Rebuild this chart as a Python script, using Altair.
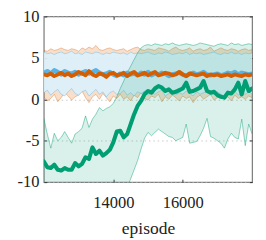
import altair as alt
import pandas as pd

episodes = list(range(12000, 18001, 100))

green_mean = [
    -7.5, -8.2, -8.3, -7.9, -8.5, -8.6, -8.3, -8.5, -8.5, -7.7,
    -8.1, -7.8, -7.0, -7.2, -5.8, -6.6, -6.2, -6.8, -6.5, -6.1,
    -5.2, -3.9, -3.8, -4.6, -4.2, -3.0, -1.8, -0.8, -0.2, 0.6,
    1.0, 0.8, 1.3, 1.6, 1.4, 1.0, 1.2, 0.8, 0.9, 1.1,
    1.3, 2.0, 0.9, 1.0, 1.2, 1.4, 2.2, 1.0, 0.8, 0.9,
    0.5, 0.3, 0.2, 0.8, 0.7, 1.2, 2.0, 0.6, 2.2, 1.0,
    1.3,
]
green_hi = [
    -2.3, -4.2, -5.9, -4.1, -5.0, -4.6, -3.9, -4.6, -5.3, -4.2,
    -3.9, -3.5, -2.0, -3.4, -2.4, -1.8, -1.0, -1.4, -1.1, -0.9,
    -0.5, 0.3, 1.3, 2.2, 3.2, 4.0, 4.8, 5.6, 6.2, 6.5,
    6.6, 6.5, 6.7, 6.6, 6.5, 6.7, 6.6, 6.8, 6.6, 6.5,
    6.6, 6.7, 6.6, 6.5, 6.6, 6.8, 6.7, 6.6, 6.5, 6.4,
    6.6, 6.7, 6.6, 6.5, 6.8, 6.6, 6.7, 6.5, 6.6, 6.7,
    6.6,
]
green_lo = [
    -12.0, -12.8, -13.1, -12.4, -13.0, -12.6, -12.2, -13.3, -12.9, -12.5,
    -12.1, -12.7, -12.3, -11.8, -12.4, -12.0, -11.6, -12.2, -11.9, -11.5,
    -11.8, -11.3, -11.6, -11.2, -10.6, -9.6, -8.5, -7.4, -6.0, -4.7,
    -4.0, -4.4, -4.0, -3.6, -3.9, -4.2, -4.5, -4.6, -5.0, -4.8,
    -4.6, -3.0, -5.3, -5.2, -5.1, -4.4, -3.5, -2.3, -4.5, -4.7,
    -5.0, -5.3, -5.9, -4.8, -4.1, -4.6, -4.8, -2.4, -5.6, -3.0,
    -4.2,
]
orange_mean = [
    3.0, 2.9, 3.1, 2.8, 3.0, 3.2, 2.9, 3.1, 2.8, 3.0,
    3.3, 3.1, 2.9, 3.4, 3.0, 2.8, 3.1, 3.0, 2.7, 3.1,
    3.2, 2.9, 3.0, 3.2, 2.8, 3.1, 3.3, 2.9, 3.0, 3.2,
    2.9, 3.1, 3.3, 2.9, 3.0, 3.2, 3.1, 2.9, 3.0, 3.3,
    3.0, 2.8, 3.1, 3.0, 2.9, 3.0, 3.1, 2.8, 3.0, 2.9,
    3.0, 2.8, 2.9, 3.0, 2.8, 3.0, 2.9, 2.8, 3.0, 2.9,
    3.0,
]
orange_hi = [
    5.9, 5.8, 6.1, 5.9, 6.0, 6.2, 6.0, 5.9, 6.1, 6.0,
    5.8, 6.2, 6.0, 6.3, 6.1, 6.5, 6.0, 5.9, 6.1, 6.2,
    6.0, 5.9, 6.0, 6.1, 5.8, 6.0, 6.2, 6.3, 6.0, 5.9,
    6.1, 6.0, 5.9, 6.2, 6.1, 6.0, 5.8, 6.1, 6.3, 6.0,
    5.9, 6.0, 6.2, 5.8, 6.0, 6.1, 5.9, 6.0, 6.3, 5.8,
    6.0, 6.2, 6.0, 5.9, 6.1, 6.0, 5.8, 6.0, 6.1, 5.9,
    6.0,
]
orange_lo = [
    0.3, -0.2, 0.1, 0.6, -0.3, 0.2, 0.8, 0.4, -0.1, 0.3,
    0.5, 1.0, 0.2, -0.4, 0.3, 0.6, 0.0, 0.7, 0.2, -0.3,
    0.4, 0.1, 0.6, 0.0, 0.3, -0.2, 0.5, 0.2, 0.8, 0.1,
    -0.1, 0.4, 0.2, 0.6, -0.3, 0.3, 0.0, 0.5, 0.2, -0.2,
    0.4, 0.1, 0.3, -0.4, 0.2, 0.5, 0.0, 0.3, 0.6, -0.1,
    0.2, 0.4, 0.0, 0.3, -0.2, 0.5, 0.1, 0.3, 0.0, 0.4,
    0.2,
]
blue_mean = [
    3.2, 3.4, 3.1, 3.5, 3.3, 3.0, 3.4, 3.2, 3.1, 3.3,
    3.0, 3.2, 3.4, 3.1, 3.3, 3.5, 3.2, 3.0, 3.1, 3.3,
    3.0, 2.8, 3.1, 2.9, 3.2, 3.0, 3.1, 2.9, 3.2, 3.0,
    3.3, 2.9, 3.1, 3.0, 3.2, 3.1, 2.8, 3.0, 3.1, 3.2,
    3.0, 2.8, 3.1, 3.2, 3.0, 3.1, 3.3, 3.0, 2.9, 3.0,
    3.1, 2.9, 3.0, 3.2, 3.1, 3.3, 3.0, 3.2, 3.1, 3.0,
    3.1,
]
blue_hi = [
    5.7, 5.5, 5.6, 5.4, 5.6, 5.7, 5.5, 5.6, 5.8, 5.5,
    5.6, 5.4, 5.7, 5.6, 5.5, 5.7, 5.6, 5.4, 5.6, 5.5,
    5.7, 5.6, 5.5, 5.6, 5.4, 5.7, 5.5, 5.6, 5.5, 5.6,
    5.7, 5.5, 5.4, 5.6, 5.5, 5.7, 5.6, 5.4, 5.5, 5.6,
    5.5, 5.7, 5.4, 5.6, 5.5, 5.6, 5.4, 5.5, 5.6, 5.7,
    5.5, 5.4, 5.6, 5.5, 5.7, 5.5, 5.6, 5.4, 5.6, 5.5,
    5.6,
]
blue_lo = [
    0.8, 1.1, 0.5, 0.9, 1.2, 0.6, 0.4, 0.9, 1.3, 0.7,
    0.5, 0.9, 1.1, 0.4, 0.8, 1.2, 0.6, 0.9, 0.3, 0.8,
    1.0, 0.6, 0.7, 1.1, 0.5, 0.8, 0.4, 0.9, 0.7, 1.0,
    0.5, 0.8, 0.6, 0.9, 1.1, 0.4, 0.7, 0.9, 0.5, 0.8,
    0.6, 1.0, 0.7, 0.4, 0.9, 0.6, 0.8, 1.0, 0.5, 0.7,
    0.9, 0.6, 0.4, 0.8, 0.7, 1.0, 0.5, 0.8, 0.6, 0.9,
    0.7,
]

x_ticks = [14000, 16000]
y_ticks = [-10, -5, 0, 5, 10]

GREEN, ORANGE, BLUE = "#009E73", "#D55E00", "#56B4E9"
BLUE_FILL = "#dcf0fb"
FONT = "Liberation Serif, DejaVu Serif, serif"


def frame(mean, lo, hi):
    return pd.DataFrame({"episode": episodes, "mean": mean, "lo": lo, "hi": hi})


df_g = frame(green_mean, green_lo, green_hi)
df_o = frame(orange_mean, orange_lo, orange_hi)
df_b = frame(blue_mean, blue_lo, blue_hi)

xscale = alt.Scale(domain=[12000, 18000], nice=False, zero=False)
yscale = alt.Scale(domain=[-10, 10], nice=False, zero=False)


def X(axis=None):
    return alt.X("episode:Q", scale=xscale, axis=axis)


def Y(field, axis=None):
    return alt.Y(f"{field}:Q", scale=yscale, axis=axis)


def band(df, color, fill, fill_op, edge_op):
    area = alt.Chart(df).mark_area(color=fill, opacity=fill_op, clip=True).encode(
        x=X(), y=Y("lo"), y2="hi:Q")
    hi = alt.Chart(df).mark_line(color=color, opacity=edge_op, strokeWidth=1, clip=True).encode(
        x=X(), y=Y("hi"))
    lo = alt.Chart(df).mark_line(color=color, opacity=edge_op, strokeWidth=1, clip=True).encode(
        x=X(), y=Y("lo"))
    return [area, hi, lo]


def mean_line(df, color, width):
    return alt.Chart(df).mark_line(color=color, strokeWidth=width, strokeJoin="round",
                                   strokeCap="round", clip=True).encode(x=X(), y=Y("mean"))


common = dict(offset=-3, tickSize=3, domain=False, tickColor="#333", tickWidth=1)

axis_bl = alt.Chart(df_g).mark_line(opacity=0).encode(
    x=X(alt.Axis(orient="bottom", values=x_ticks, title="episode", grid=False,
                 labelExpr="'' + datum.value", labelFont=FONT, labelFontSize=17,
                 labelColor="#222", labelPadding=13, titleFont=FONT, titleFontSize=18,
                 titleFontWeight="normal", titleColor="#222", titlePadding=10, **common)),
    y=Y("mean", alt.Axis(orient="left", values=y_ticks, title=None, grid=True,
                         gridDash=[1.5, 3], gridColor="#bbbbbb", gridWidth=0.8,
                         labelExpr="'' + datum.value", labelFont=FONT, labelFontSize=17,
                         labelColor="#222", labelPadding=5, **common)),
)
axis_tr = alt.Chart(df_g).mark_line(opacity=0).encode(
    x=X(alt.Axis(orient="top", values=x_ticks, title=None, labels=False, grid=False, **common)),
    y=Y("mean", alt.Axis(orient="right", values=y_ticks, title=None, labels=False, grid=False,
                         **common)),
)

layers = [axis_bl]
layers += band(df_o, ORANGE, ORANGE, 0.2, 0.35)
layers += band(df_b, BLUE, BLUE_FILL, 0.92, 0.4)
layers += band(df_g, GREEN, GREEN, 0.15, 0.45)
layers += [mean_line(df_b, BLUE, 4.5), mean_line(df_o, ORANGE, 4), mean_line(df_g, GREEN, 4.2)]
layers += [axis_tr]

chart = alt.layer(*layers).resolve_axis(x="independent", y="independent").properties(
    width=215, height=171,
    autosize=alt.AutoSizeParams(type="none"),
    padding={"left": 37, "top": 5, "right": 6, "bottom": 56},
).configure_view(stroke="#808080", strokeWidth=1.3)

chart.save("out.html", embed_options={"renderer": "svg", "actions": False})
